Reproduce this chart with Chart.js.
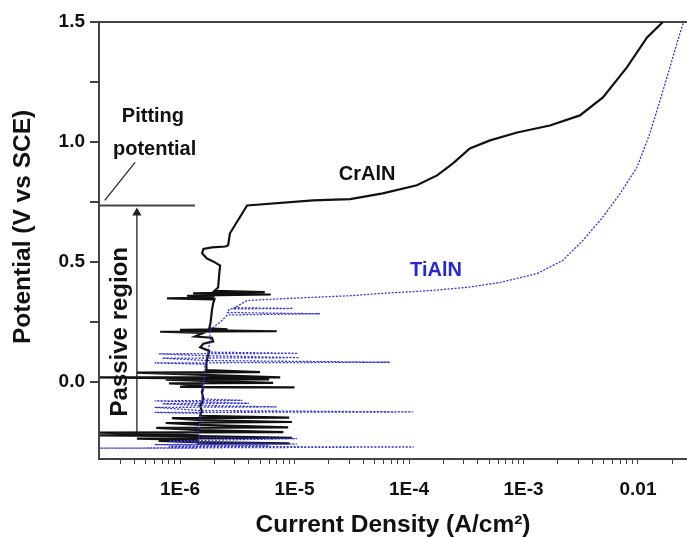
<!DOCTYPE html>
<html>
<head>
<meta charset="utf-8">
<script src="https://cdn.jsdelivr.net/npm/chart.js@4.4.1/dist/chart.umd.min.js"></script>
<style>
  body { margin: 0; background: #fff; }
  canvas { display: block; }
</style>
</head>
<body>
<canvas id="myChart" width="687" height="537"></canvas>
<script>
// CrAlN curve from bottom to top (noise spikes included)
const crPotential = [-0.255, -0.255, -0.25, -0.245, -0.24, -0.235, -0.232, -0.225, -0.222, -0.222,
    -0.21, -0.208, -0.2, -0.19, -0.188, -0.178, -0.17, -0.166, -0.158, -0.15,
    -0.148, -0.14, -0.12, -0.1, -0.07, -0.04, -0.022, -0.022, -0.02, -0.01,
    -0.005, -0.003, 0.005, 0.01, 0.012, 0.02, 0.02, 0.03, 0.04, 0.042,
    0.05, 0.08, 0.11, 0.13, 0.145, 0.16, 0.17, 0.185, 0.19, 0.205,
    0.21, 0.212, 0.218, 0.22, 0.224, 0.25, 0.3, 0.33, 0.345, 0.349,
    0.352, 0.36, 0.365, 0.37, 0.375, 0.38, 0.394, 0.45, 0.486, 0.5,
    0.515, 0.536, 0.555, 0.561, 0.565, 0.57, 0.62, 0.736, 0.757, 0.762,
    0.786, 0.82, 0.861, 0.911, 0.973, 1.007, 1.04, 1.069, 1.111, 1.186,
    1.311, 1.436, 1.5]
const crCurrent = [1.4e-6, 9.0e-6, 1.4e-6, 6.5e-7, 1.45e-6, 4.2e-7, 9.5e-6, 1.45e-6, 2.0e-7, 1.45e-6,
    2.0e-7, 8.0e-6, 1.5e-6, 6.2e-7, 8.8e-6, 1.5e-6, 7.5e-7, 9.5e-6, 1.5e-6, 8.5e-7,
    9.0e-6, 1.5e-6, 1.55e-6, 1.5e-6, 1.6e-6, 1.55e-6, 1.6e-6, 1.0e-5, 1.0e-6, 1.6e-6,
    8.0e-7, 6.5e-6, 1.6e-6, 7.5e-7, 6.0e-6, 2.0e-7, 7.5e-6, 1.6e-6, 4.2e-7, 5.0e-6,
    1.7e-6, 1.7e-6, 1.75e-6, 1.8e-6, 1.5e-6, 1.6e-6, 1.95e-6, 1.9e-6, 1.35e-6, 1.6e-6,
    6.7e-7, 7.0e-6, 1.0e-6, 2.6e-6, 1.8e-6, 1.85e-6, 1.9e-6, 1.95e-6, 2.0e-6, 7.7e-7,
    2.0e-6, 1.15e-6, 6.2e-6, 1.3e-6, 5.5e-6, 2.0e-6, 2.15e-6, 2.2e-6, 2.24e-6, 2.0e-6,
    1.72e-6, 1.56e-6, 1.6e-6, 1.9e-6, 2.5e-6, 2.63e-6, 2.73e-6, 3.85e-6, 1.45e-5, 3.06e-5,
    5.9e-5, 1.17e-4, 1.76e-4, 2.42e-4, 3.4e-4, 5.1e-4, 8.8e-4, 1.7e-3, 3.11e-3, 4.94e-3,
    8.0e-3, 1.2e-2, 1.65e-2]

// TiAlN curve from bottom to top
const tiPotential = [-0.275, -0.275, -0.27, -0.268, -0.265, -0.262, -0.26, -0.258, -0.25, -0.245,
    -0.235, -0.23, -0.2, -0.16, -0.13, -0.126, -0.124, -0.118, -0.105, -0.103,
    -0.097, -0.09, -0.088, -0.078, -0.076, -0.07, -0.03, 0.0, 0.04, 0.075,
    0.08, 0.083, 0.09, 0.1, 0.102, 0.11, 0.118, 0.12, 0.125, 0.132,
    0.174, 0.215, 0.25, 0.28, 0.285, 0.29, 0.305, 0.307, 0.31, 0.34,
    0.35, 0.36, 0.37, 0.382, 0.395, 0.415, 0.452, 0.507, 0.59, 0.686,
    0.786, 0.895, 1.036, 1.174, 1.311, 1.424, 1.5]
const tiCurrent = [1.4e-6, 2.0e-7, 1.1e-4, 8.0e-7, 6.0e-6, 1.4e-6, 6.0e-7, 1.05e-5, 1.4e-6, 8.0e-7,
    1.05e-5, 1.45e-6, 1.45e-6, 1.5e-6, 1.5e-6, 6.0e-7, 1.08e-4, 1.5e-6, 6.0e-7, 7.0e-6,
    1.5e-6, 7.0e-7, 4.0e-6, 6.0e-7, 3.5e-6, 1.55e-6, 1.6e-6, 1.6e-6, 1.65e-6, 1.65e-6,
    6.0e-7, 6.8e-5, 1.7e-6, 7.0e-7, 1.1e-5, 1.7e-6, 6.5e-7, 1.07e-5, 1.75e-6, 1.75e-6,
    1.85e-6, 1.8e-6, 2.24e-6, 2.6e-6, 1.67e-5, 2.6e-6, 2.7e-6, 9.7e-6, 3.0e-6, 3.85e-6,
    1.0e-5, 3.05e-5, 5.9e-5, 1.62e-4, 3.2e-4, 6.2e-4, 1.31e-3, 2.2e-3, 3.3e-3, 4.9e-3,
    7.0e-3, 9.8e-3, 1.27e-2, 1.56e-2, 1.9e-2, 2.23e-2, 2.5e-2]

// Annotation marks (pitting line, pointer, passive-region arrow)
const pitCurrent = [2.0e-7, 1.35e-6]
const pitPotential = [0.736, 0.736]
const pointerCurrent = [4.05e-7, 2.2e-7]
const pointerPotential = [0.915, 0.757]
const arrowCurrent = [4.2e-7, 4.2e-7]
const arrowPotential = [-0.222, 0.705]

// Axis ticks
const xTickValues = [1e-6, 1e-5, 1e-4, 1e-3, 1e-2]
const xTickLabels = ["1E-6", "1E-5", "1E-4", "1E-3", "0.01"]
const yTickValues = [0, 0.5, 1.0, 1.5]
const yTickLabels = ["0.0", "0.5", "1.0", "1.5"]

const pts = (xs, ys) => xs.map((x, i) => ({x: x, y: ys[i]}))

const font = "'Liberation Sans', Arial, sans-serif"
const axisColor = "#444"

// Texts placed in data units
const notes = [
    {text: "CrAlN", x: 4.3e-5, y: 0.865, color: "#111", size: 20, rotate: 0},
    {text: "TiAlN", x: 1.72e-4, y: 0.465, color: "#2626d6", size: 20, rotate: 0},
    {text: "Pitting", x: 5.8e-7, y: 1.105, color: "#111", size: 20, rotate: 0},
    {text: "potential", x: 6.0e-7, y: 0.97, color: "#111", size: 20, rotate: 0},
    {text: "Passive region", x: 3.0e-7, y: 0.21, color: "#111", size: 24, rotate: -Math.PI / 2}
]

const notesPlugin = {
    id: "notes",
    afterDatasetsDraw(chart) {
        const ctx = chart.ctx
        notes.forEach((n) => {
            const px = chart.scales.x.getPixelForValue(n.x)
            const py = chart.scales.y.getPixelForValue(n.y)
            ctx.save()
            ctx.translate(px, py)
            ctx.rotate(n.rotate)
            ctx.font = "bold " + n.size + "px " + font
            ctx.fillStyle = n.color
            ctx.textAlign = "center"
            ctx.textBaseline = "middle"
            ctx.fillText(n.text, 0, 0)
            ctx.restore()
        })
    }
}

const isWhole = (v) => {
    const m = v / Math.pow(10, Math.floor(Math.log10(v) + 1e-9))
    return Math.abs(m - Math.round(m)) < 1e-6
}

let myChart = document.getElementById("myChart").getContext("2d")

new Chart(myChart, {
    type: "scatter",
    data: {
        datasets: [{
            label: "TiAlN",
            data: pts(tiCurrent, tiPotential),
            showLine: true,
            borderColor: "#3434d8",
            borderWidth: 1.3,
            borderDash: [2, 1.5],
            pointRadius: 0,
            tension: 0,
            order: 0
        }, {
            label: "CrAlN",
            data: pts(crCurrent, crPotential),
            showLine: true,
            borderColor: "#111",
            borderWidth: 2.2,
            pointRadius: 0,
            tension: 0,
            order: 1
        }, {
            label: "pitting",
            data: pts(pitCurrent, pitPotential),
            showLine: true,
            borderColor: axisColor,
            borderWidth: 2,
            pointRadius: 0,
            order: 2
        }, {
            label: "pointer",
            data: pts(pointerCurrent, pointerPotential),
            showLine: true,
            borderColor: "#222",
            borderWidth: 1.2,
            pointRadius: 0,
            order: 2
        }, {
            label: "arrow",
            data: pts(arrowCurrent, arrowPotential),
            showLine: true,
            borderColor: "#222",
            borderWidth: 1.3,
            pointStyle: "triangle",
            pointRadius: [0, 4],
            pointBackgroundColor: "#222",
            pointBorderColor: "#222",
            order: 2
        }]
    },
    options: {
        responsive: false,
        animation: false,
        layout: { autoPadding: false, padding: { top: 22, right: 0, left: 0, bottom: 0 } },
        plugins: {
            legend: { display: false },
            tooltip: { enabled: false }
        },
        scales: {
            x: {
                type: "logarithmic",
                min: 1.96e-7,
                max: 0.0268,
                border: { display: true, color: axisColor, width: 2 },
                grid: {
                    drawOnChartArea: false,
                    tickLength: 5,
                    tickColor: (c) => (c.tick && isWhole(c.tick.value)) ? axisColor : "rgba(0,0,0,0)"
                },
                ticks: {
                    autoSkip: false,
                    maxRotation: 0,
                    minRotation: 0,
                    padding: 14,
                    color: "#111",
                    font: { family: font, size: 19, weight: "bold" },
                    callback: (v) => {
                        const i = xTickValues.findIndex(t => Math.abs(Math.log10(v) - Math.log10(t)) < 1e-6)
                        return i >= 0 ? xTickLabels[i] : ""
                    }
                },
                title: {
                    display: true,
                    text: "Current Density (A/cm²)",
                    color: "#111",
                    font: { family: font, size: 24.5, weight: "bold" },
                    padding: { top: 0, bottom: -3 }
                },
                afterFit: (scale) => {
                    scale.height = 78
                    scale.paddingLeft = 0
                    scale.paddingRight = 0
                }
            },
            y: {
                min: -0.32,
                max: 1.5,
                border: { display: true, color: axisColor, width: 2 },
                grid: {
                    drawOnChartArea: true,
                    tickLength: 9,
                    lineWidth: 2,
                    color: (c) => (c.tick && c.tick.value === 1.5) ? axisColor : "rgba(0,0,0,0)",
                    tickColor: (c) => (c.tick && Math.abs(c.tick.value * 4 - Math.round(c.tick.value * 4)) < 1e-6) ? axisColor : "rgba(0,0,0,0)"
                },
                ticks: {
                    stepSize: 0.25,
                    padding: 5,
                    color: "#111",
                    font: { family: font, size: 19, weight: "bold" },
                    callback: (v) => {
                        const i = yTickValues.findIndex(t => Math.abs(v - t) < 1e-6)
                        return i >= 0 ? yTickLabels[i] : ""
                    }
                },
                title: {
                    display: true,
                    // leading spaces lift the rotated title a little, as in the picture
                    text: "    Potential (V vs SCE)",
                    color: "#111",
                    font: { family: font, size: 24.5, weight: "bold" },
                    padding: { top: 9, bottom: 0 }
                },
                afterFit: (scale) => {
                    scale.width = 99
                    scale.paddingTop = 0
                    scale.paddingBottom = 0
                }
            }
        }
    },
    plugins: [notesPlugin]
})
</script>
</body>
</html>
